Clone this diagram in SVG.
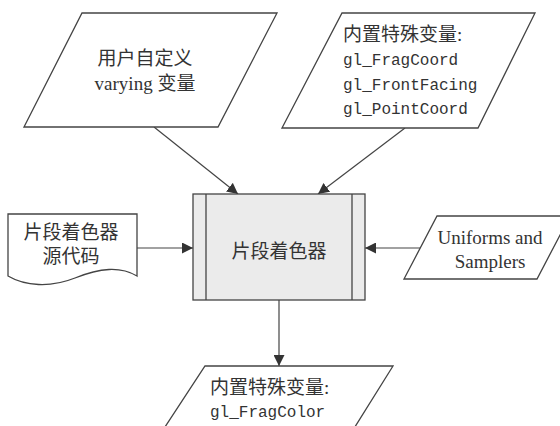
<svg xmlns="http://www.w3.org/2000/svg" width="560" height="426" viewBox="0 0 560 426">
<defs>
<marker id="arr" viewBox="0 0 10 10" refX="10" refY="5" markerWidth="11" markerHeight="11" markerUnits="userSpaceOnUse" orient="auto">
<path d="M0,0 L10,5 L0,10 Z" fill="#333"/>
</marker>
</defs>
<style>
.shape{fill:#fff;stroke:#444;stroke-width:1.3}
.box{fill:#ebebeb;stroke:#444;stroke-width:1.3}
.edge{stroke:#444;stroke-width:1.2;fill:none;marker-end:url(#arr)}
.cn{font-family:"Liberation Serif","Noto Sans CJK SC",serif;font-size:19px;fill:#333;text-anchor:middle;dominant-baseline:central}
.mono{font-family:"Liberation Mono","Courier New",monospace;font-size:16px;fill:#333;dominant-baseline:central}
.hd{font-family:"Liberation Serif","Noto Sans CJK SC",serif;font-size:19px;fill:#333;dominant-baseline:central}
</style>
<rect width="560" height="426" fill="#fff"/>
<g id="connectors">
<line class="edge" x1="154" y1="127" x2="238" y2="194"/>
<line class="edge" x1="405" y1="128" x2="318" y2="194"/>
<line class="edge" x1="137" y1="248" x2="193" y2="248"/>
<line class="edge" x1="421" y1="248" x2="365" y2="248"/>
<line class="edge" x1="279" y1="300" x2="279" y2="366"/>
</g>
<g id="varying">
<polygon class="shape" points="82,13 277,13 218,127 24,127"/>
<text class="cn" x="145" y="58">用户自定义</text>
<text class="cn" x="145" y="83">varying 变量</text>
</g>
<g id="builtin-in">
<polygon class="shape" points="342,13 535,13 478,128 282,128"/>
<text class="hd" x="343" y="34">内置特殊变量:</text>
<text class="mono" x="343" y="61">gl_FragCoord</text>
<text class="mono" x="343" y="86">gl_FrontFacing</text>
<text class="mono" x="343" y="110">gl_PointCoord</text>
</g>
<g id="source">
<path class="shape" d="M8,214 H137 V276 C120,266 100,268 75,278 C50,288 25,286 8,276 Z"/>
<text class="cn" x="71" y="232">片段着色器</text>
<text class="cn" x="71" y="256">源代码</text>
</g>
<g id="shader">
<rect class="box" x="193" y="194" width="172" height="106"/>
<line x1="206" y1="194" x2="206" y2="300" stroke="#444" stroke-width="1.3"/>
<line x1="352" y1="194" x2="352" y2="300" stroke="#444" stroke-width="1.3"/>
<text class="cn" x="279" y="251">片段着色器</text>
</g>
<g id="uniforms">
<polygon class="shape" points="437,216 570,216 537,279 404,279"/>
<text class="cn" x="490" y="237">Uniforms and</text>
<text class="cn" x="490" y="261">Samplers</text>
</g>
<g id="builtin-out">
<polygon class="shape" points="205,366 393,366 353,430 163,430"/>
<text class="hd" x="210" y="387">内置特殊变量:</text>
<text class="mono" x="210" y="413">gl_FragColor</text>
</g>
</svg>
